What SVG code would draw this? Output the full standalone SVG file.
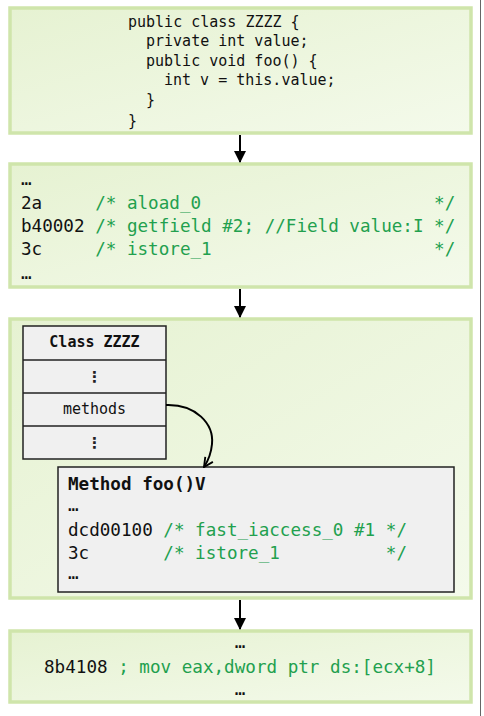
<svg xmlns="http://www.w3.org/2000/svg" width="484" height="716" viewBox="0 0 484 716">
<defs>
<linearGradient id="g" x1="0" y1="0" x2="1" y2="1">
<stop offset="0" stop-color="#e6f2d2"/>
<stop offset="1" stop-color="#f4faeb"/>
</linearGradient>
<marker id="ah" viewBox="0 0 12 12" refX="11" refY="6" markerWidth="12" markerHeight="12" markerUnits="userSpaceOnUse" orient="auto">
<path d="M0,0 L12,6 L0,12 Z" fill="#000"/>
</marker>
<marker id="av" viewBox="0 0 12 12" refX="11" refY="6" markerWidth="11" markerHeight="11" markerUnits="userSpaceOnUse" orient="auto">
<path d="M1,1 L11,6 L1,11" fill="none" stroke="#000" stroke-width="2"/>
</marker>
<style>
.box{fill:url(#g);stroke:#cfe5ab;stroke-width:3.5}
.gray{fill:#f0f0f0;stroke:#222;stroke-width:1.5}
.m{font-family:"DejaVu Sans Mono","Liberation Mono",monospace;fill:#111}
.s15{font-size:15px}
.s17{font-size:17.6px}
.b{font-weight:bold}
.c{fill:#22a04e}
.vd{font-family:"DejaVu Sans",sans-serif;font-size:15px;fill:#222;font-weight:bold}
.conn{fill:none;stroke:#000;stroke-width:2}
</style>
</defs>
<rect x="0" y="0" width="484" height="716" fill="#fff"/>
<line x1="480.5" y1="0" x2="480.5" y2="716" stroke="#666" stroke-width="1"/>

<g id="source">
<rect class="box" x="10" y="8" width="461" height="125"/>
<text class="m s15" xml:space="preserve"><tspan x="128" y="27">public class ZZZZ {</tspan><tspan x="146" y="46">private int value;</tspan><tspan x="146" y="66">public void foo() {</tspan><tspan x="164" y="85">int v = this.value;</tspan><tspan x="146" y="105">}</tspan><tspan x="128" y="126">}</tspan></text>
</g>

<g id="bytecode">
<rect class="box" x="10" y="164" width="461" height="123"/>
<text class="m s17" xml:space="preserve" x="21" y="185">…</text>
<text class="m s17" xml:space="preserve" x="21" y="209">2a     <tspan class="c">/* aload_0                      */</tspan></text>
<text class="m s17" xml:space="preserve" x="21" y="232">b40002 <tspan class="c">/* getfield #2; //Field value:I */</tspan></text>
<text class="m s17" xml:space="preserve" x="21" y="255">3c     <tspan class="c">/* istore_1                     */</tspan></text>
<text class="m s17" xml:space="preserve" x="21" y="279">…</text>
</g>

<g id="runtime">
<rect class="box" x="10" y="319" width="461" height="279"/>
</g>

<g id="class-zzzz">
<rect class="gray" x="23" y="326" width="143" height="133"/>
<line x1="23" y1="360" x2="166" y2="360" stroke="#222" stroke-width="1.5"/>
<line x1="23" y1="393" x2="166" y2="393" stroke="#222" stroke-width="1.5"/>
<line x1="23" y1="426" x2="166" y2="426" stroke="#222" stroke-width="1.5"/>
<text class="m s15 b" x="94.5" y="347" text-anchor="middle">Class ZZZZ</text>
<text class="vd" x="94.5" y="382" text-anchor="middle">⋮</text>
<text class="m s15" x="94.5" y="414" text-anchor="middle" fill="#222">methods</text>
<text class="vd" x="94.5" y="448" text-anchor="middle">⋮</text>
</g>

<g id="method-foo">
<rect class="gray" x="58" y="467" width="396" height="125"/>
<text class="m s17 b" x="68" y="490">Method foo()V</text>
<text class="m s17" x="68" y="511">…</text>
<text class="m s17" xml:space="preserve" x="68" y="536">dcd00100 <tspan class="c">/* fast_iaccess_0 #1 */</tspan></text>
<text class="m s17" xml:space="preserve" x="68" y="559">3c       <tspan class="c">/* istore_1          */</tspan></text>
<text class="m s17" x="68" y="579">…</text>
</g>

<g id="machine">
<rect class="box" x="10" y="631" width="461" height="71"/>
<text class="m s17" x="240" y="648" text-anchor="middle">…</text>
<text class="m s17" xml:space="preserve" x="240" y="673" text-anchor="middle">8b4108 <tspan class="c">; mov eax,dword ptr ds:[ecx+8]</tspan></text>
<text class="m s17" x="240" y="695" text-anchor="middle">…</text>
</g>

<g id="connectors">
<line class="conn" x1="240" y1="135" x2="240" y2="162" marker-end="url(#ah)"/>
<line class="conn" x1="240" y1="289" x2="240" y2="317" marker-end="url(#ah)"/>
<line class="conn" x1="240" y1="600" x2="240" y2="629" marker-end="url(#ah)"/>
<path class="conn" d="M166,405 C196,404 214,424 212,444 C211,455 208,461 204,467" marker-end="url(#av)"/>
</g>
</svg>
